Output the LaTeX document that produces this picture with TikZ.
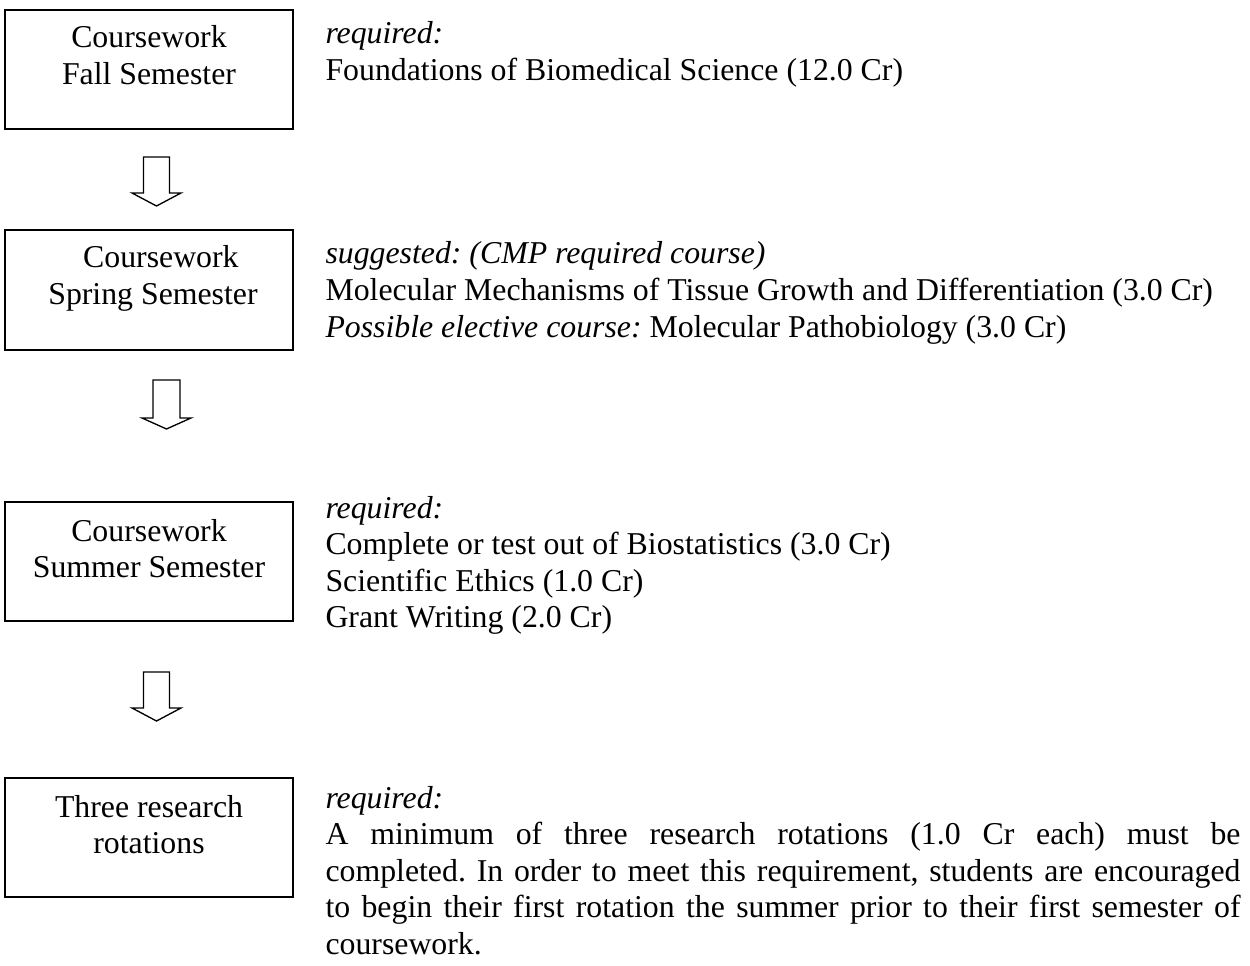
\documentclass[tikz,border=0pt]{standalone}
\usepackage{fontspec}
\setmainfont{Liberation Serif}
\begin{document}
\frenchspacing
\begin{tikzpicture}[x=0.3774pt,y=-0.3774pt,
  box/.style={draw,line width=0.75pt,rectangle,inner sep=0pt,minimum width=108.7pt,minimum height=45pt},
  boxtext/.style={anchor=base,inner sep=0pt,text width=108pt,align=flush center,font=\fontsize{12}{13.8}\selectfont},
  desc/.style={anchor=base west,inner sep=0pt,text width=345.3pt,align=flush left,font=\fontsize{12}{13.8}\selectfont},
  blockarrow/.style={draw,line width=0.5pt,line join=miter}]
\useasboundingbox (0,0) rectangle (1250,966);

% boxes
\node[box] (b1) at (149,69.5) {};
\node[box] (b2) at (149,290) {};
\node[box] (b3) at (149,561.5) {};
\node[box] (b4) at (149,837.5) {};

% box texts
\node[boxtext] (t1) at (149,48) {Coursework\\Fall Semester};
\node[boxtext] (t2) at (149,268) {\hspace*{9pt}Coursework\\\hspace*{3pt}Spring Semester};
\node[boxtext] (t3) at (149,541) {Coursework\\Summer Semester};
\node[boxtext] (t4) at (149,817) {Three research\\rotations};

% block arrows
\draw[blockarrow] (143.5,157) -- (169.5,157) -- (169.5,193) -- (181,193) -- (156.5,206) -- (132,193) -- (143.5,193) -- cycle;
\draw[blockarrow] (153,380) -- (180,380) -- (180,418) -- (191,418) -- (166.5,429) -- (142,418) -- (153,418) -- cycle;
\draw[blockarrow] (143.5,672) -- (169.5,672) -- (169.5,708) -- (181,708) -- (156.5,721) -- (132,708) -- (143.5,708) -- cycle;

% descriptions
\node[desc] (d1) at (325,44) {\textit{required:}\\Foundations of Biomedical Science (12.0 Cr)};
\node[desc] (d2) at (325,264) {\textit{suggested: (CMP required course)}\\Molecular Mechanisms of Tissue Growth and Differentiation (3.0 Cr)\\\textit{Possible elective course:} Molecular Pathobiology (3.0 Cr)};
\node[desc] (d3) at (325,518) {\textit{required:}\\Complete or test out of Biostatistics (3.0 Cr)\\Scientific Ethics (1.0 Cr)\\Grant Writing (2.0 Cr)};
\node[desc,align=justify] (d4) at (325,808) {\hyphenpenalty=10000\tolerance=10000\emergencystretch=20pt
\textit{required:}\\
A minimum of three research rotations (1.0 Cr each) must be\linebreak
completed. In order to meet this requirement, students are encouraged\linebreak
to begin their first rotation the summer prior to their first semester of\linebreak
coursework.};
\end{tikzpicture}
\end{document}
